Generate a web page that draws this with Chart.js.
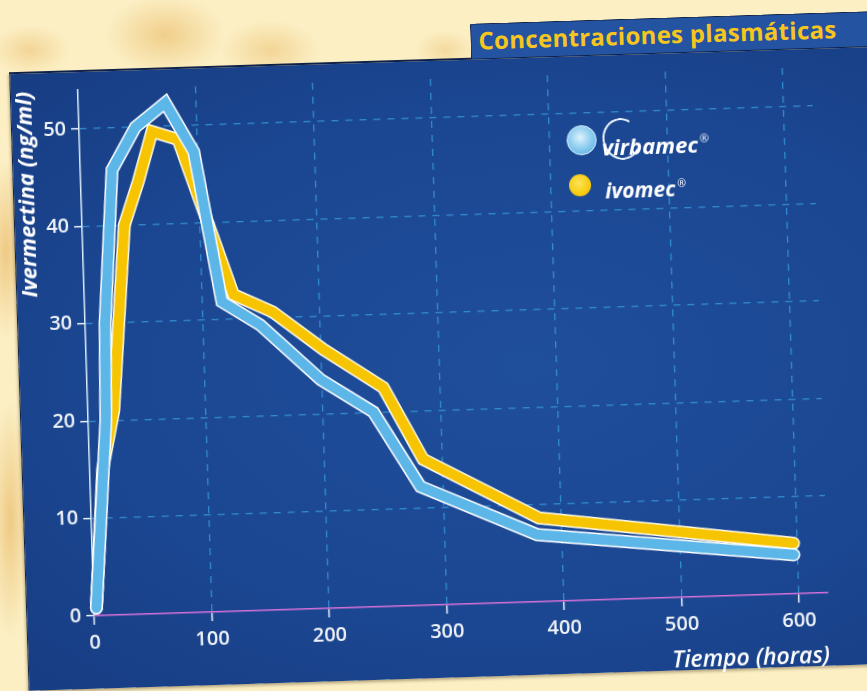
<!DOCTYPE html>
<html>
<head>
<meta charset="utf-8">
<script src="https://cdn.jsdelivr.net/npm/chart.js@4.4.1/dist/chart.umd.min.js"></script>
<style>
  html, body { margin: 0; padding: 0; }
  body {
    width: 867px; height: 691px; overflow: hidden; position: relative;
    background-color: #fcefc4;
    background-image:
      radial-gradient(ellipse 60px 40px at 165px 35px, rgba(236,196,120,0.75), rgba(236,196,120,0) 100%),
      radial-gradient(ellipse 50px 30px at 270px 50px, rgba(236,196,120,0.6), rgba(236,196,120,0) 100%),
      radial-gradient(ellipse 40px 25px at 30px 50px, rgba(236,196,120,0.6), rgba(236,196,120,0) 100%),
      radial-gradient(ellipse 30px 20px at 445px 50px, rgba(236,196,120,0.5), rgba(236,196,120,0) 100%),
      radial-gradient(ellipse 20px 90px at 6px 250px, rgba(232,186,104,0.7), rgba(232,186,104,0) 100%),
      radial-gradient(ellipse 20px 120px at 10px 520px, rgba(232,186,104,0.7), rgba(232,186,104,0) 100%);
  }
  #wrap {
    position: absolute; left: 0; top: 0; width: 867px; height: 691px;
    transform: rotate(-1.8deg); transform-origin: 433px 345px;
  }
  #panel {
    position: absolute; left: 18px; top: 59px; width: 920px; height: 617px;
    background: radial-gradient(ellipse at 55% 50%, #1f4e9b 0%, #1b4691 60%, #173d83 100%);
    border-top: 2px solid #0e2148; border-left: 1px solid #0e2148;
    box-shadow: -1px 2px 3px rgba(60,40,10,0.35);
  }
  #tab {
    position: absolute; left: 480px; top: 25px; width: 420px; height: 34px;
    background: #2353a1; border: 1px solid #0e2148; border-bottom: none;
    border-radius: 2px 6px 0 0;
  }
  #tab span {
    position: absolute; left: 7px; top: 0px;
    font: 700 24px "Open Sans", sans-serif; letter-spacing: 0.3px;
    color: #f6c61e; white-space: nowrap; line-height: 32px;
  }
  canvas { position: absolute; left: 0; top: 0; }
  .dot { position: absolute; border-radius: 50%; }
  #dotV {
    left: 573px; top: 130px; width: 28px; height: 28px;
    background: radial-gradient(circle at 45% 40%, #dff3fc 0%, #9ad3f2 40%, #5cb3e6 85%);
    border: 1.5px solid #e6f6ff;
  }
  #dotI {
    left: 574px; top: 179px; width: 22px; height: 22px;
    background: radial-gradient(circle at 45% 40%, #ffe35a 0%, #f7cb10 60%, #eebb00 100%);
  }
  #swoosh {
    position: absolute; left: 609px; top: 124px; width: 34px; height: 38px;
    border: 2px solid #eef6ff; border-right-color: transparent; border-radius: 50%;
    transform: rotate(-15deg);
  }
  .lbl {
    position: absolute; color: #ffffff; white-space: nowrap;
    font-family: "Open Sans", sans-serif; font-style: italic; font-weight: 700;
  }
  .lbl sup { font-size: 50%; font-weight: 400; font-style: normal; vertical-align: 0.9em; margin-left: 2px; }
  #lblV { left: 608px; top: 133px; font-size: 22px; line-height: 28px; }
  #lblI { left: 610px; top: 178px; font-size: 21px; line-height: 26px; }
</style>
</head>
<body>
<div id="wrap">
  <div id="panel"></div>
  <div id="tab"><span>Concentraciones plasmáticas</span></div>
  <canvas id="chart" width="867" height="691"></canvas>
  <div class="dot" id="dotV"></div>
  <div id="swoosh"></div>
  <div class="lbl" id="lblV">virbamec<sup>®</sup></div>
  <div class="dot" id="dotI"></div>
  <div class="lbl" id="lblI">ivomec<sup>®</sup></div>
</div>
<script>
// valores (horas, ng/ml)
const xTicks = [0, 100, 200, 300, 400, 500, 600];
const yTicks = [0, 10, 20, 30, 40, 50];

const virbamecHoras = [2, 15, 17, 27, 48, 74, 97, 117, 149, 199, 243, 281, 379, 597];
const virbamecConc  = [0.8, 20, 30, 45.7, 50, 52.4, 47.3, 31.8, 29.3, 23.5, 20.0, 12.2, 6.9, 4.0];

const ivomecHoras = [2, 11, 22, 36, 49, 62, 84, 127, 160, 202, 252, 284, 381, 597];
const ivomecConc  = [0.8, 15, 21, 40, 44.4, 49.5, 48.6, 32.5, 30.6, 26.6, 22.5, 15.0, 8.6, 5.2];

const gridColor = 'rgba(52, 150, 220, 0.85)';
const labelFont = { family: 'Open Sans', size: 20, weight: '600' };

function toPoints(xs, ys) {
    return xs.map((x, i) => ({ x: x, y: ys[i] }));
}

function lineSet(xs, ys, color, width, order) {
    return {
        data: toPoints(xs, ys),
        borderColor: color,
        borderWidth: width,
        borderJoinStyle: 'miter',
        borderCapStyle: 'round',
        pointRadius: 0,
        tension: 0,
        fill: false,
        clip: false,
        order: order
    };
}

// linea 0 = eje, sin cuadricula punteada
function gridLineColor(ctx) {
    return ctx.tick && ctx.tick.value === 0 ? 'rgba(0,0,0,0)' : gridColor;
}

new Chart(document.getElementById('chart'), {
    type: 'line',
    data: {
        datasets: [
            lineSet(virbamecHoras, virbamecConc, '#5cb6e8', 10, 0),
            lineSet(virbamecHoras, virbamecConc, '#ffffff', 13, 1),
            lineSet(ivomecHoras, ivomecConc, '#f6c400', 10, 2),
            lineSet(ivomecHoras, ivomecConc, '#fffbe6', 13, 3)
        ]
    },
    options: {
        responsive: false,
        animation: false,
        devicePixelRatio: 1,
        layout: { padding: { left: 0, top: 79, right: 47, bottom: 0 } },
        plugins: {
            legend: { display: false },
            tooltip: { enabled: false }
        },
        scales: {
            x: {
                type: 'linear',
                min: 0,
                max: 625,
                afterBuildTicks: scale => { scale.ticks = xTicks.map(v => ({ value: v })); },
                afterFit: scale => { scale.height = 86; },
                grid: {
                    color: gridLineColor,
                    lineWidth: 1.3,
                    tickColor: '#e8f2fb',
                    tickLength: 9,
                    tickWidth: 1.5
                },
                border: { color: '#d470d8', width: 1.6, dash: [7, 7] },
                ticks: { color: '#eef2f8', font: labelFont, padding: 6, maxRotation: 0 },
                title: {
                    display: true,
                    text: 'Tiempo (horas)',
                    align: 'end',
                    color: '#ffffff',
                    font: { family: 'Open Sans', size: 23, style: 'italic', weight: '600' },
                    padding: { top: 0, bottom: 9 }
                }
            },
            y: {
                min: 0,
                max: 54,
                afterBuildTicks: scale => { scale.ticks = yTicks.map(v => ({ value: v })); },
                afterFit: scale => { scale.width = 86; },
                grid: {
                    color: gridLineColor,
                    lineWidth: 1.3,
                    tickColor: '#e8f2fb',
                    tickLength: 8,
                    tickWidth: 1.5
                },
                border: { color: '#d8ecf8', width: 1.5, dash: [7, 7] },
                ticks: { color: '#eef2f8', font: labelFont, padding: 5 },
                title: {
                    display: true,
                    text: 'Ivermectina (ng/ml)',
                    align: 'end',
                    color: '#ffffff',
                    font: { family: 'Open Sans', size: 22, style: 'italic', weight: '700' },
                    padding: { top: 20, bottom: 0 }
                }
            }
        }
    }
});
</script>
</body>
</html>
